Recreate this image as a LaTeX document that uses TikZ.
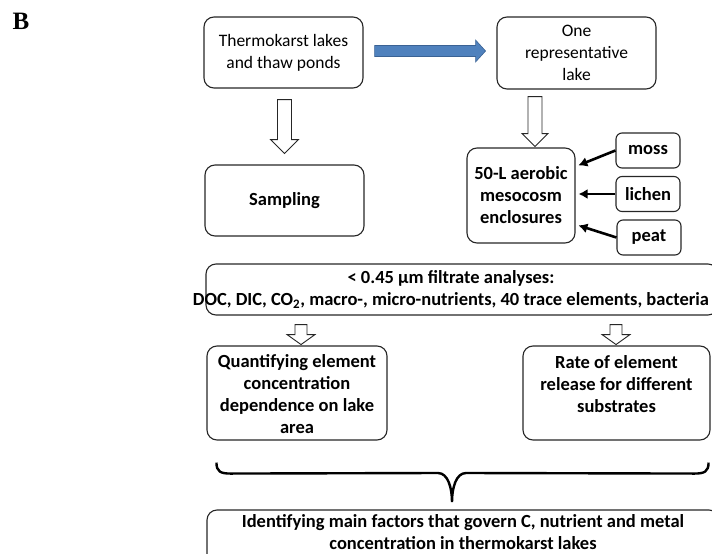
\documentclass[tikz,border=0pt]{standalone}
\usepackage{fontspec}
\setmainfont{Carlito}
\newfontfamily\panelfont{Liberation Serif}
\usepackage{tikz}
\usetikzlibrary{positioning,arrows.meta,calc}
\definecolor{flowblue}{RGB}{79,129,189}
\definecolor{flowedge}{RGB}{58,98,148}

\begin{document}
\begin{tikzpicture}[x=1pt,y=-1pt,
  box/.style={draw=black!85, line width=1.1pt, rounded corners=10pt, align=center, inner sep=0pt, font=\fontsize{17.5}{22}\selectfont},
  boldbox/.style={box, font=\fontsize{18.5}{22}\selectfont\bfseries},
  tag/.style={boldbox, rounded corners=6pt, minimum width=64pt, minimum height=35pt},
  hollow/.style={draw=black!85, line width=0.9pt, fill=white},
  bluearrow/.style={fill=flowblue, draw=flowedge, line width=0.6pt},
  feed/.style={-{Latex[length=9pt,width=10pt]}, line width=2.6pt, shorten >=3pt},
  brace/.style={line width=2.4pt}]

\useasboundingbox (0,0) rectangle (712,554);

% Panel letter
\node[font=\panelfont\bfseries\fontsize{25}{25}\selectfont] (panel) at (21,21) {B};

% Top row
\node[box, minimum width=159pt, minimum height=71pt] (lakes) at (283.5,52.5) {Thermokarst lakes\\and thaw ponds};
\node[box, minimum width=159pt, minimum height=72pt] (rep) at (576.5,53) {One\\representative\\lake};
\draw[bluearrow] ($(lakes.east)+(11,-7)$) -- ++(101,0) -- ++(0,-5.5) -- ++(10,11) -- ++(-10,11) -- ++(0,-5.5) -- ++(-101,0) -- cycle;

% Hollow arrows down
\draw[hollow] ($(lakes.south)+(-6,11)$) -- ++(14,0) -- ++(0,40) -- ++(7,0) -- ++(-14,14) -- ++(-14,-14) -- ++(7,0) -- cycle;
\draw[hollow] ($(rep.south)+(-48.5,7)$) -- ++(14,0) -- ++(0,37) -- ++(6,0) -- ++(-13,13) -- ++(-13,-13) -- ++(6,0) -- cycle;

% Second row
\node[boldbox, minimum width=159pt, minimum height=71pt] (sampling) at (284.5,200.5) {Sampling};
\node[boldbox, minimum width=108pt, minimum height=95pt] (meso) at (521,195.5) {50-L aerobic\\mesocosm\\enclosures};
\node[tag] (moss) at (648,150.5) {moss};
\node[tag] (lichen) at (648,194) {lichen};
\node[tag] (peat) at (649,237.5) {peat};

% Substrates into the enclosures
\draw[feed] (moss.west) -- (meso.28);
\draw[feed] (lichen.west) -- (lichen.west -| meso.east);
\draw[feed] (peat.west) -- (meso.-28);

% Filtrate analyses
\node[box, minimum width=512pt, minimum height=51pt] (filt) at (462,289.5) {};
\node[font=\fontsize{18.5}{22}\selectfont\bfseries, align=center, inner sep=0pt] (filttext) at (451,289.5) {< 0.45 µm filtrate analyses:\\DOC, DIC, CO\textsubscript{2}, macro-, micro-nutrients, 40 trace elements, bacteria};

\draw[hollow] ($(filt.south)+(-167,9)$) -- ++(12,0) -- ++(0,10) -- ++(8,0) -- ++(-14,10) -- ++(-14,-10) -- ++(8,0) -- cycle;
\draw[hollow] ($(filt.south)+(148,9)$) -- ++(12,0) -- ++(0,10) -- ++(8,0) -- ++(-14,10) -- ++(-14,-10) -- ++(8,0) -- cycle;

% Third row
\node[boldbox, minimum width=180pt, minimum height=94pt, text height=87pt, text depth=7pt] (quant) at (297,393) {Quantifying element\\concentration\\dependence on lake\\area};
\node[boldbox, minimum width=187pt, minimum height=94pt, text height=66pt, text depth=28pt] (rate) at (616.5,393) {Rate of element\\release for different\\substrates};

% Brace
\coordinate (braceL) at ($(quant.south west)+(10,22)$);
\coordinate (braceR) at ($(rate.south east)+(-2,22)$);
\coordinate (braceTip) at (452,502);
\draw[brace] (braceL) .. controls +(0,9) and +(-10,0) .. ($(braceL)+(14,11)$) -- ($(braceTip)+(-14,-29)$) .. controls +(10,0) and +(0,-14) .. (braceTip)
  .. controls +(0,-14) and +(-10,0) .. ($(braceTip)+(14,-29)$) -- ($(braceR)+(-14,11)$) .. controls +(10,0) and +(0,9) .. (braceR);

% Outcome
\node[boldbox, minimum width=512pt, minimum height=54pt, text height=39pt, text depth=15pt] (final) at (463,537) {Identifying main factors that govern C, nutrient and metal\\concentration in thermokarst lakes};

\end{tikzpicture}
\end{document}
